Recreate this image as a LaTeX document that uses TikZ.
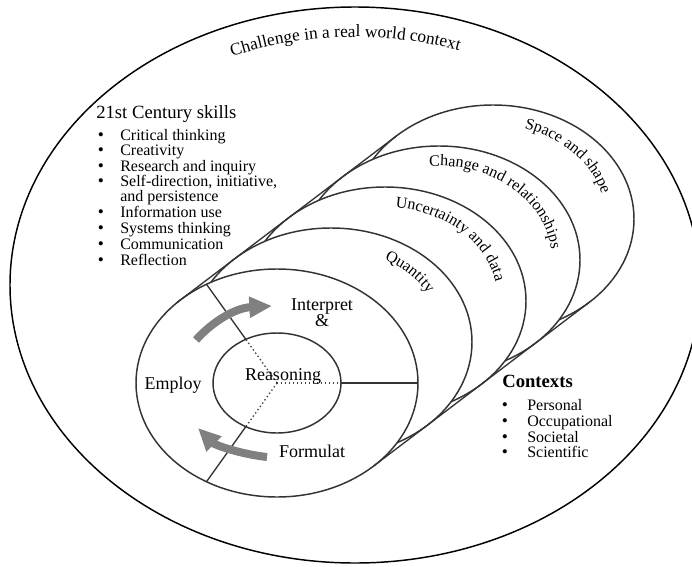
\documentclass[tikz,border=0pt]{standalone}
\usepackage{fontspec}
\setmainfont{Liberation Serif}
\usetikzlibrary{arrows.meta}
\usetikzlibrary{decorations.text}

\tikzset{
  ring/.style={draw=black!80, line width=1.1pt, fill=white},
  spoke/.style={draw=black!80, line width=1pt},
  dotspoke/.style={draw=black!75, line width=1pt, dotted},
  cyclearrow/.style={draw=black!50, line width=6pt, -{Triangle[length=17pt,width=15pt]}},
  phase/.style={anchor=base, font=\fontsize{13.5}{15}\selectfont, inner sep=0pt},
  skill/.style={anchor=base west, font=\fontsize{12}{13}\selectfont, inner sep=0pt},
  bulletmark/.style={anchor=base, font=\fontsize{13}{13}\selectfont, inner sep=0pt},
  curvedlabel/.style={decorate, decoration={text along path, text align=center,
      text={|\fontsize{12}{14}\selectfont|#1}}},
}

\begin{document}
\begin{tikzpicture}[x=0.75pt,y=0.75pt,yscale=-1,xscale=1]
  \useasboundingbox (0,0) rectangle (692,567);
  % real world context
  \draw [line width=1.1pt] (355,285) ellipse [x radius=345, y radius=278];
  \path [decorate, decoration={text along path, text align=center,
      text={|\fontsize{13}{15}\selectfont|Challenge in a real world context}}]
      (355,285) ++(-140:315 and 248) arc [start angle=-140, end angle=-44, x radius=315, y radius=248];

  % content categories, back to front
  \draw [ring] (493,219) ellipse [x radius=141, y radius=114];
  \draw [ring] (439,260) ellipse [x radius=141, y radius=114];
  \draw [ring] (385,301) ellipse [x radius=141, y radius=114];
  \draw [ring] (331,342) ellipse [x radius=141, y radius=114];
  \draw [ring] (277,383) ellipse [x radius=141, y radius=114];
  \coordinate (tlA) at (176.5,302.9);
  \coordinate (tlB) at (396.5,135.9);
  \coordinate (brA) at (373.5,466.1);
  \coordinate (brB) at (589.5,302.1);
  \draw [spoke] (tlA) -- (tlB);
  \draw [spoke] (brA) -- (brB);

  \path [curvedlabel={Quantity}] (331,342) ++(-80:113 and 94) arc [start angle=-80, end angle=-10, x radius=113, y radius=94];
  \path [curvedlabel={Uncertainty and data}] (385,301) ++(-108:113 and 94) arc [start angle=-108, end angle=16, x radius=113, y radius=94];
  \path [curvedlabel={Change and relationships}] (439,260) ++(-114:113 and 94) arc [start angle=-114, end angle=16, x radius=113, y radius=94];
  \path [curvedlabel={Space and shape}] (493,219) ++(-102:113 and 94) arc [start angle=-102, end angle=18, x radius=113, y radius=94];

  % processes
  \draw [ring] (277,383) ellipse [x radius=64, y radius=50];
  \coordinate (hub) at (277,383);
  \coordinate (upIn) at (245.8,339.3);
  \coordinate (upOut) at (206.5,284.3);
  \coordinate (lowIn) at (245.8,426.7);
  \coordinate (lowOut) at (206.5,481.7);
  \coordinate (rtIn) at (341,383);
  \coordinate (rtOut) at (418,383);
  \draw [dotspoke] (hub) -- (upIn);
  \draw [dotspoke] (hub) -- (lowIn);
  \draw [dotspoke] (hub) -- (rtIn);
  \draw [spoke] (upIn) -- (upOut);
  \draw [spoke] (lowIn) -- (lowOut);
  \draw [spoke] (rtIn) -- (rtOut);

  \coordinate (upTail) at (196,340);
  \coordinate (upTip) at (272,306);
  \coordinate (lowTail) at (267,457);
  \coordinate (lowTip) at (198,428);
  \draw [cyclearrow] (upTail) .. controls (212,322) and (235,308) .. (upTip);
  \draw [cyclearrow] (lowTail) .. controls (240,454) and (215,445) .. (lowTip);

  \node (interp) at (322,310) [phase] {Interpret};
  \node (amp) at (322,326) [phase] {\&};
  \node (employ) at (173,389) [phase] {Employ};
  \node (reason) at (283,380) [phase] {Reasoning};
  \node (formul) at (312,457) [phase] {Formulat};

  % 21st century skills
  \node (skillhead) at (96,118) [anchor=base west, inner sep=0pt, font=\fontsize{14}{16}\selectfont] {21st Century skills};
  \node (b1) at (101,140) [bulletmark] {\textbullet};
  \node (critical) at (120,140) [skill] {Critical thinking};
  \node (b2) at (101,155.5) [bulletmark] {\textbullet};
  \node (creative) at (120,155.5) [skill] {Creativity};
  \node (b3) at (101,171) [bulletmark] {\textbullet};
  \node (research) at (120,171) [skill] {Research and inquiry};
  \node (b4) at (101,186.7) [bulletmark] {\textbullet};
  \node (selfdir) at (120,186.7) [skill] {Self-direction, initiative,};
  \node (persist) at (120,201.7) [skill] {and persistence};
  \node (b5) at (101,217.3) [bulletmark] {\textbullet};
  \node (infouse) at (120,217.3) [skill] {Information use};
  \node (b6) at (101,233.3) [bulletmark] {\textbullet};
  \node (systems) at (120,233.3) [skill] {Systems thinking};
  \node (b7) at (101,249) [bulletmark] {\textbullet};
  \node (commun) at (120,249) [skill] {Communication};
  \node (b8) at (101,265) [bulletmark] {\textbullet};
  \node (reflect) at (120,265) [skill] {Reflection};

  % contexts
  \node (ctxhead) at (502,387) [anchor=base west, inner sep=0pt, font=\fontsize{14}{16}\selectfont\bfseries] {Contexts};
  \node (c1) at (505,410.7) [bulletmark] {\textbullet};
  \node (personal) at (527,410.7) [skill] {Personal};
  \node (c2) at (505,426) [bulletmark] {\textbullet};
  \node (occup) at (527,426) [skill] {Occupational};
  \node (c3) at (505,442) [bulletmark] {\textbullet};
  \node (societal) at (527,442) [skill] {Societal};
  \node (c4) at (505,457.7) [bulletmark] {\textbullet};
  \node (scient) at (527,457.7) [skill] {Scientific};
\end{tikzpicture}
\end{document}
